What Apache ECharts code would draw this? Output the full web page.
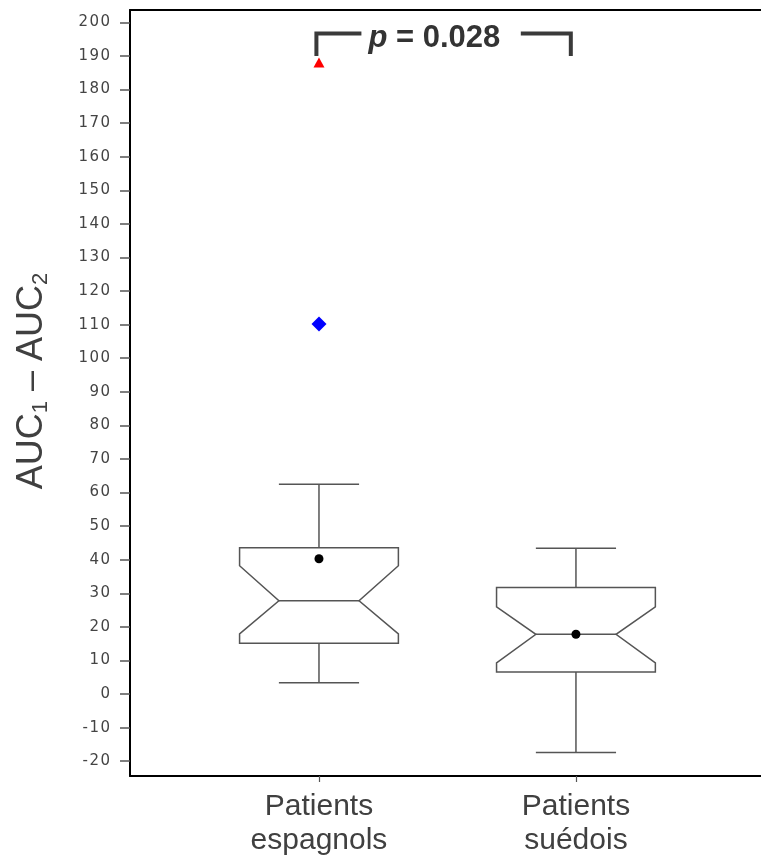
<!DOCTYPE html>
<html>
<head>
<meta charset="utf-8">
<script src="https://cdn.jsdelivr.net/npm/echarts@6/dist/echarts.min.js"></script>
<style>html,body{margin:0;padding:0;background:#fff;overflow:hidden;}#c{width:761px;height:858px;}</style>
</head>
<body>
<div id="c"></div>
<script>
// ---- data ----
const categories = ['Patients\nespagnols', 'Patients\nsuédois'];
const whiskerLow  = [3.4, -17.4];
const q1          = [15.1, 6.6];
const notchLow    = [17.9, 9.3];
const median      = [27.8, 17.8];
const notchHigh   = [38.2, 26.0];
const q3          = [43.6, 31.7];
const whiskerHigh = [62.5, 43.4];
const means       = [40.3, 17.8];
const maxOutlier  = [[1, 188.1]];   // red triangle
const blueOutlier = [[1, 110.2]];   // blue diamond
const yTicks = [-20,-10,0,10,20,30,40,50,60,70,80,90,100,110,120,130,140,150,160,170,180,190,200];
const pText = 'p = 0.028';
const bracketX = [0.99, 1.98];
const bracketY = [196.7, 190.0];

const boxData = categories.map((c, i) => [i + 1, whiskerLow[i], q1[i], notchLow[i], median[i], notchHigh[i], q3[i], whiskerHigh[i], means[i]]);

const chart = echarts.init(document.getElementById('c'));
const lineCol = '#555';
const BW = 0.309, NW = 0.156;

function renderBox(params, api) {
  const x = api.value(0);
  const wl = api.value(1), a = api.value(2), nl = api.value(3), md = api.value(4),
        nh = api.value(5), b = api.value(6), wh = api.value(7), mn = api.value(8);
  const c = (dx, v) => api.coord([x + dx, v]);
  const style = { stroke: lineCol, lineWidth: 1.5, fill: null };
  return {
    type: 'group',
    children: [
      { type: 'polygon', shape: { points: [
          c(-BW, a), c(-BW, nl), c(-NW, md), c(-BW, nh), c(-BW, b),
          c(BW, b), c(BW, nh), c(NW, md), c(BW, nl), c(BW, a)
        ] }, style: { stroke: lineCol, lineWidth: 1.5, fill: '#fff' } },
      { type: 'polyline', shape: { points: [c(-NW, md), c(NW, md)] }, style },
      { type: 'polyline', shape: { points: [c(0, b), c(0, wh)] }, style },
      { type: 'polyline', shape: { points: [c(-NW, wh), c(NW, wh)] }, style },
      { type: 'polyline', shape: { points: [c(0, a), c(0, wl)] }, style },
      { type: 'polyline', shape: { points: [c(-NW, wl), c(NW, wl)] }, style },
      { type: 'circle', shape: { cx: c(0, mn)[0], cy: c(0, mn)[1], r: 4.5 }, style: { fill: '#000' } }
    ]
  };
}

function renderBracket(params, api) {
  const pl = api.coord([api.value(0), api.value(2)]);
  const plb = api.coord([api.value(0), api.value(3)]);
  const pr = api.coord([api.value(1), api.value(2)]);
  const prb = api.coord([api.value(1), api.value(3)]);
  const st = { stroke: '#3a3a3a', lineWidth: 4, fill: null, lineJoin: 'miter', lineCap: 'butt' };
  return {
    type: 'group',
    children: [
      { type: 'polyline', shape: { points: [plb, pl, [pl[0] + 45, pl[1]]] }, style: st },
      { type: 'polyline', shape: { points: [[pr[0] - 50, pr[1]], pr, prb] }, style: st },
      { type: 'text', x: pl[0] + 52, y: pl[1] + 4.5, style: {
          text: '{i|' + pText.slice(0, 1) + '}{b|' + pText.slice(1) + '}',
          verticalAlign: 'middle', align: 'left',
          rich: {
            i: { fontFamily: 'Liberation Sans', fontSize: 31, fontWeight: 'bold', fontStyle: 'italic', fill: '#333' },
            b: { fontFamily: 'Liberation Sans', fontSize: 31, fontWeight: 'bold', fill: '#333' }
          }
      } }
    ]
  };
}

const option = {
  animation: false,
  backgroundColor: '#fff',
  grid: { left: 130, right: -10, top: 10, bottom: 82, containLabel: false, outerBoundsMode: 'none' },
  xAxis: [{
    type: 'value', position: 'bottom', min: 0.2646, max: 2.759,
    splitLine: { show: false },
    axisLine: { show: true, onZero: false, lineStyle: { color: '#000', width: 2 } },
    axisTick: { show: true, customValues: [1, 2], length: 6, lineStyle: { color: lineCol, width: 1.2 } },
    axisLabel: { show: true, customValues: [1, 2], formatter: v => categories[Math.round(v) - 1],
      margin: 14, fontFamily: 'Liberation Sans', fontSize: 30, lineHeight: 34, color: '#404040' }
  }, {
    type: 'value', position: 'top', min: 0.2646, max: 2.759,
    splitLine: { show: false },
    axisLine: { show: true, onZero: false, lineStyle: { color: '#000', width: 2 } },
    axisTick: { show: false }, axisLabel: { show: false }
  }],
  yAxis: {
    type: 'value', min: -24.4, max: 203.7,
    splitLine: { show: false },
    axisLine: { show: true, onZero: false, lineStyle: { color: '#000', width: 2 } },
    axisTick: { show: true, customValues: yTicks, length: 10, lineStyle: { color: lineCol, width: 1.5 } },
    axisLabel: { show: true, customValues: yTicks, margin: 20,
      formatter: v => String(v).split('').join('\u200A'),
      fontFamily: 'DejaVu Sans', fontSize: 15, color: '#444' },
    name: '{m|AUC}{s|1}{m| – AUC}{s|2}',
    nameLocation: 'middle', nameRotate: 90, nameGap: 78,
    nameTextStyle: {
      padding: [0, 0, 0, 24],
      rich: {
        m: { fontFamily: 'Liberation Sans', fontSize: 36, lineHeight: 40, color: '#404040', verticalAlign: 'middle' },
        s: { fontFamily: 'Liberation Sans', fontSize: 22, lineHeight: 40, color: '#404040', verticalAlign: 'bottom' }
      }
    }
  },
  series: [
    { type: 'custom', xAxisIndex: 0, renderItem: renderBox, data: boxData, clip: false,
      encode: { x: 0, y: [1, 7] } },
    { type: 'scatter', xAxisIndex: 0, data: maxOutlier, symbol: 'triangle', symbolSize: [11, 10],
      itemStyle: { color: '#ff0000', opacity: 1 } },
    { type: 'scatter', xAxisIndex: 0, data: blueOutlier, symbol: 'diamond', symbolSize: 15,
      itemStyle: { color: '#0000ff', opacity: 1 } },
    { type: 'custom', xAxisIndex: 0, renderItem: renderBracket, clip: false,
      data: [[bracketX[0], bracketX[1], bracketY[0], bracketY[1]]], encode: { x: [0, 1], y: [2, 3] } }
  ]
};
chart.setOption(option);
</script>
</body>
</html>
